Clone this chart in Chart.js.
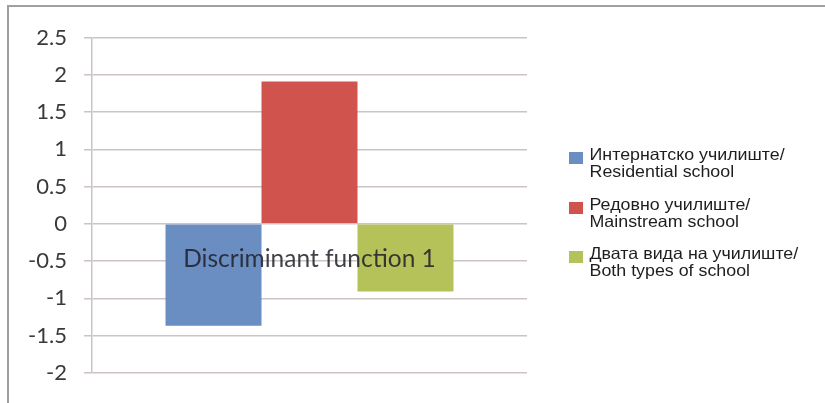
<!DOCTYPE html>
<html lang="mk">
<head>
  <meta charset="UTF-8">
  <title>Discriminant function 1</title>
  <style>
    html, body {
      margin: 0;
      padding: 0;
      background-color: #fff;
      overflow: hidden;
    }
    .frame {
      position: absolute;
      left: 7px;
      top: 5px;
      width: 830px;
      height: 420px;
      border-left: 2px solid #a3a09c;
      border-top: 2px solid #a3a09c;
    }
    .chart-box {
      position: absolute;
      left: 0;
      top: 0;
      width: 825px;
      height: 403px;
    }
    .legend {
      position: absolute;
      left: 569px;
      top: 146px;
      font-family: "Liberation Sans", Arial, sans-serif;
      font-size: 16.5px;
      line-height: 17px;
      color: #1e1e1e;
      transform: scaleX(1.08);
      transform-origin: 0 0;
    }
    .legend-item {
      position: relative;
      padding-left: 19px;
      margin-bottom: 15.5px;
      white-space: nowrap;
    }
    .legend-item span {
      position: absolute;
      left: 0;
      top: 6px;
      width: 13px;
      height: 12px;
    }
  </style>
  <script src="https://cdn.jsdelivr.net/npm/chart.js"></script>
</head>
<body>

<div class="frame"></div>
<div class="chart-box"><canvas id="chart" width="825" height="403"></canvas></div>
<div class="legend" id="legend"></div>

<script>
const categories = ["Discriminant function 1"];
const groupNames = [
  ["Интернатско училиште/", "Residential school"],
  ["Редовно училиште/", "Mainstream school"],
  ["Двата вида на училиште/", "Both types of school"]
];
const groupValues = [-1.37, 1.91, -0.91];
const groupColors = ["#6a8ec1", "#d1534d", "#b5c25a"];

const yTicks = [2.5, 2, 1.5, 1, 0.5, 0, -0.5, -1, -1.5, -2];

// legend on the side, two lines per entry
const legend = document.getElementById("legend");
groupNames.forEach((lines, i) => {
  const item = document.createElement("div");
  item.className = "legend-item";
  const box = document.createElement("span");
  box.style.backgroundColor = groupColors[i];
  item.appendChild(box);
  lines.forEach(t => {
    const line = document.createElement("div");
    line.textContent = t;
    item.appendChild(line);
  });
  legend.appendChild(item);
});

const gridColor = "#cdc3c3";

new Chart(document.getElementById("chart"), {
  type: "bar",
  data: {
    labels: categories,
    datasets: groupNames.map((lines, i) => ({
      label: lines.join(" "),
      data: [groupValues[i]],
      backgroundColor: groupColors[i],
      borderWidth: 0
    }))
  },
  options: {
    responsive: false,
    animation: false,
    events: [],
    categoryPercentage: 0.662,
    barPercentage: 1,
    layout: {
      padding: { left: 0, right: 298, top: 37.5, bottom: 16 }
    },
    plugins: {
      legend: { display: false },
      tooltip: { enabled: false }
    },
    scales: {
      x: {
        position: { y: 0 },
        grid: { display: false, drawTicks: false },
        border: { display: false },
        ticks: {
          z: 1,
          color: "rgba(30,30,40,0.85)",
          padding: 21,
          font: { family: "Lato, 'Open Sans', sans-serif", size: 24.5 }
        }
      },
      y: {
        min: -2,
        max: 2.5,
        afterBuildTicks: scale => {
          scale.ticks = yTicks.map(v => ({ value: v }));
        },
        afterFit: scale => {
          scale.width = 92;
        },
        grid: {
          color: gridColor,
          tickLength: 8,
          lineWidth: 1.5
        },
        border: { display: true, color: gridColor, width: 1.5 },
        ticks: {
          color: "#3a3a3a",
          padding: 17,
          font: { family: "Lato, 'Open Sans', sans-serif", size: 22 },
          callback: v => String(v)
        }
      }
    }
  }
});
</script>

</body>
</html>
